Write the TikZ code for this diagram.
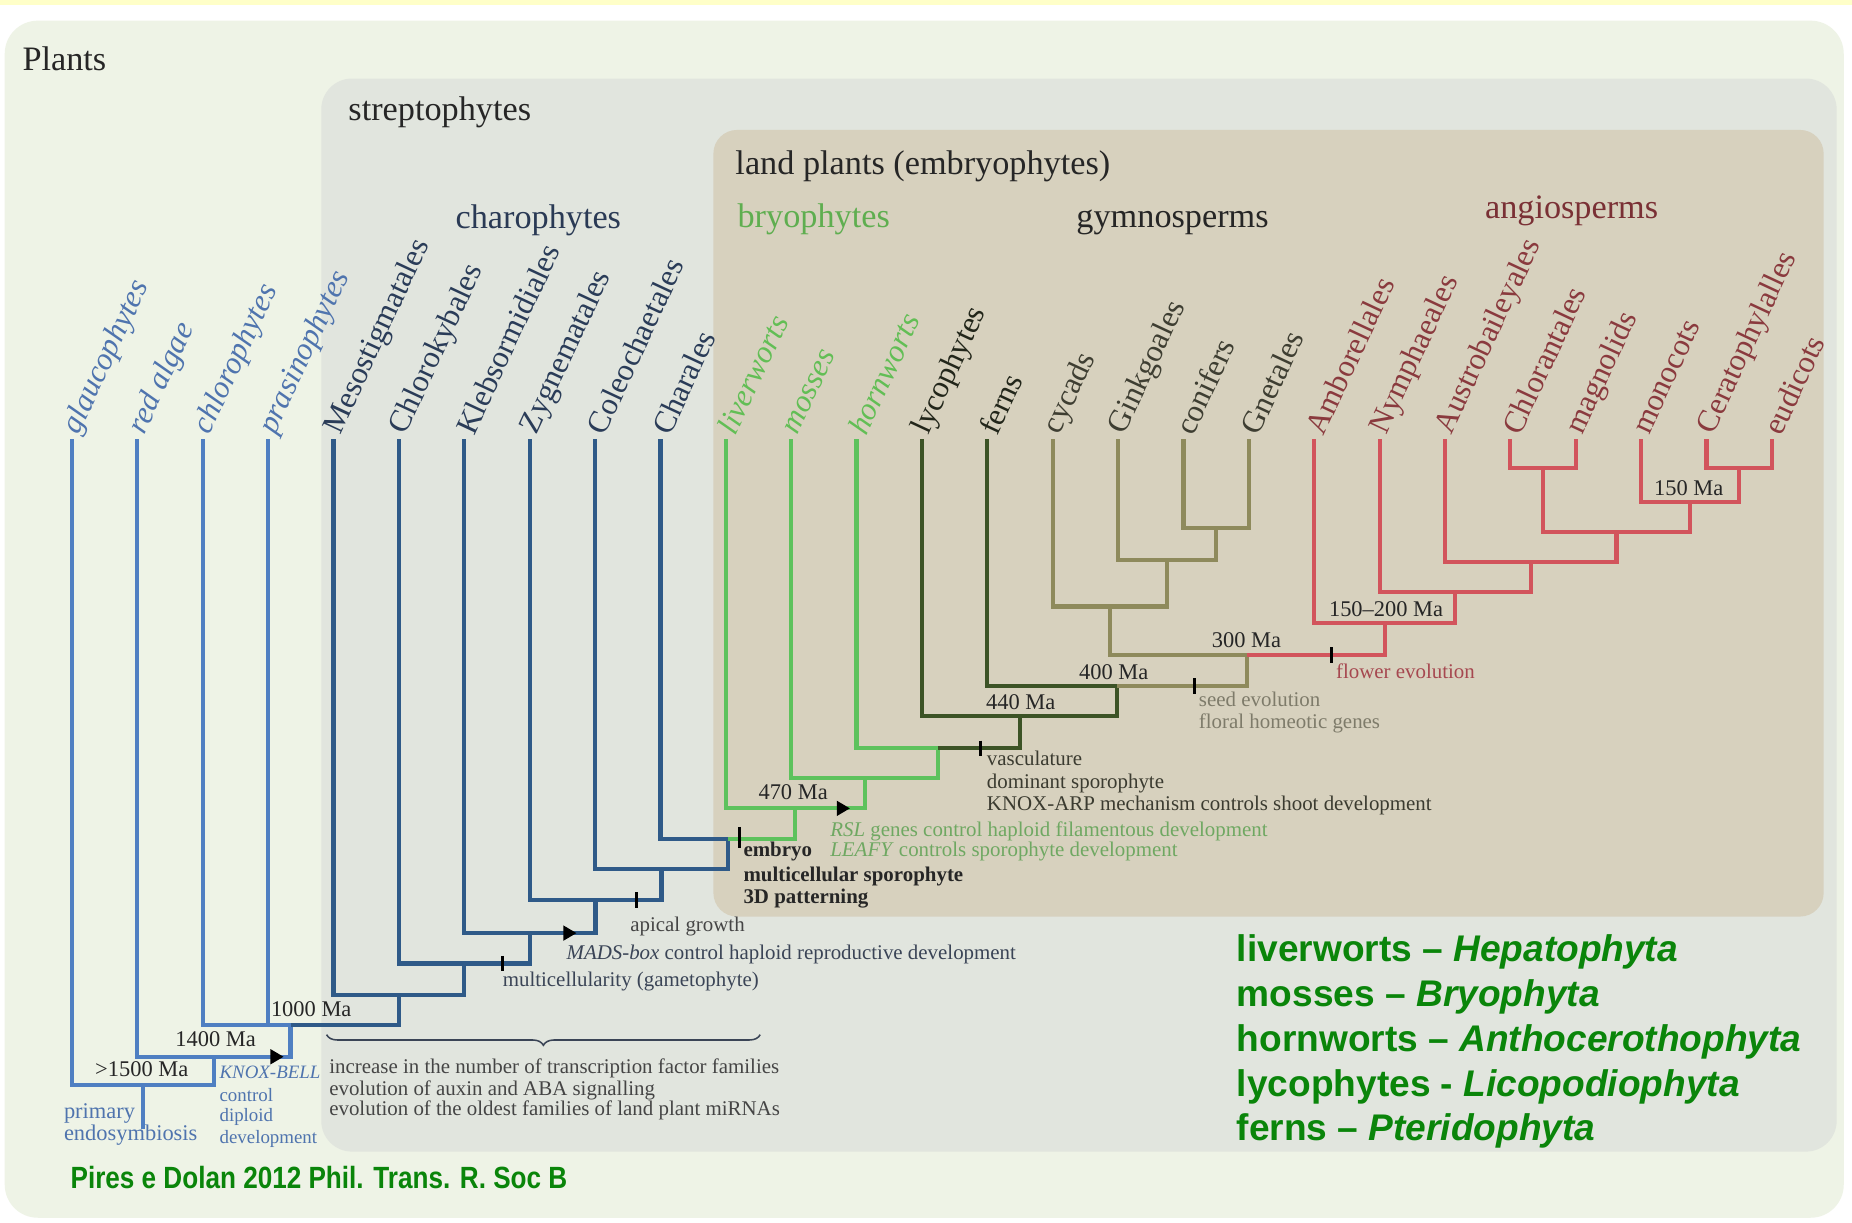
\documentclass[tikz,border=0pt]{standalone}
\usepackage{fontspec}
\setmainfont{Liberation Serif}
\newfontfamily\sansfont{Liberation Sans}
\usetikzlibrary{decorations.pathreplacing,calc}
\definecolor{ybg}{HTML}{FFFFC8}
\definecolor{plantsbg}{HTML}{EEF3E6}
\definecolor{streptobg}{HTML}{E1E5DE}
\definecolor{landbg}{HTML}{D7D1BE}
\definecolor{cAlg}{HTML}{4F7FC2}
\definecolor{cCha}{HTML}{2F5A88}
\definecolor{cBry}{HTML}{5DC25D}
\definecolor{cVas}{HTML}{3C5326}
\definecolor{cGym}{HTML}{8E8A5C}
\definecolor{cAng}{HTML}{D2545C}
\definecolor{tAlg}{HTML}{4F74AE}
\definecolor{tCha}{HTML}{2A3C58}
\definecolor{tBry}{HTML}{62BE55}
\definecolor{tVas}{HTML}{22261A}
\definecolor{tGym}{HTML}{3E3E32}
\definecolor{tAng}{HTML}{8A3A3E}
\definecolor{tGrey}{HTML}{454545}
\definecolor{tSlate}{HTML}{3A4456}
\definecolor{tSeed}{HTML}{7E7B6A}
\definecolor{tFlow}{HTML}{A64850}
\definecolor{tLand}{HTML}{6FA862}
\definecolor{tOlive}{HTML}{3B3B30}
\definecolor{legendc}{HTML}{0A850A}
\definecolor{tBryG}{HTML}{5FAE50}
\definecolor{tAngG}{HTML}{7A3035}
\definecolor{tChaG}{HTML}{2A3A55}
\begin{document}
\begin{tikzpicture}[x=1pt,y=-1pt,
  leaflab/.style={anchor=west,rotate=65,inner sep=0pt,font=\fontsize{26.5}{26.5}\selectfont},
  algT/.style={leaflab,text=tAlg,font=\fontsize{26.5}{26.5}\selectfont\itshape},
  chaT/.style={leaflab,text=tCha},
  bryT/.style={leaflab,text=tBry,font=\fontsize{26.5}{26.5}\selectfont\itshape},
  vasT/.style={leaflab,text=tVas},
  gymT/.style={leaflab,text=tGym},
  angT/.style={leaflab,text=tAng},
  grp/.style={anchor=base west,inner sep=0pt,font=\fontsize{29}{29}\selectfont,text=black!85},
  ev/.style={anchor=base west,inner sep=0pt,font=\fontsize{17.7}{17.7}\selectfont},
  ma/.style={anchor=base,inner sep=0pt,font=\fontsize{19}{19}\selectfont,text=black!85},
  br/.style={line width=3.5pt},
  alg/.style={br,draw=cAlg},
  cha/.style={br,draw=cCha},
  bry/.style={br,draw=cBry},
  vas/.style={br,draw=cVas},
  gym/.style={br,draw=cGym},
  ang/.style={br,draw=cAng},
  tickmark/.style={line width=2.6pt,draw=black},
  leg/.style={anchor=base west,inner sep=0pt,text=legendc,font=\sansfont\bfseries\fontsize{31.4}{31.4}\selectfont}]
\useasboundingbox (0,0) rectangle (1568,1035);
% backgrounds
\fill[white] (0,0) rectangle (1568,1035);
\fill[ybg] (0,0) rectangle (1568,4.5);
\fill[plantsbg,rounded corners=28pt] (4,17.5) rectangle (1561,1031);
\fill[streptobg,rounded corners=26pt] (272,66.5) rectangle (1555,975);
\fill[landbg,rounded corners=20pt] (604,110) rectangle (1544,776);

% group labels
\node[grp] (g-plants) at (18.9,59.9) {Plants};
\node[grp] (g-strep) at (294.8,101.6) {streptophytes};
\node[grp] (g-land) at (622.5,148) {land plants (embryophytes)};
\node[grp,text=tChaG] (g-chara) at (385.5,193.3) {charophytes};
\node[grp,text=tBryG] (g-bryo) at (624.3,192.6) {bryophytes};
\node[grp] (g-gymno) at (911.2,192.6) {gymnosperms};
\node[grp,text=tAngG] (g-angio) at (1257.1,185) {angiosperms};

% leaves
\foreach \x/\n/\t in {61/glau/glaucophytes,116.35/red/red algae,171.7/chlo/chlorophytes,227.05/pras/prasinophytes}
  {\coordinate (\n) at (\x,372); \node[algT] (lab-\n) at (\x,366) {\t};}
\foreach \x/\n/\t in {282.4/meso/Mesostigmatales,337.75/chlk/Chlorokybales,393.1/kleb/Klebsormidiales,448.45/zyg/Zygnematales,503.8/cole/Coleochaetales,559.15/char/Charales}
  {\coordinate (\n) at (\x,372); \node[chaT] (lab-\n) at (\x,366) {\t};}
\foreach \x/\n/\t in {614.5/liv/liverworts,669.85/mos/mosses,725.2/horn/hornworts}
  {\coordinate (\n) at (\x,372); \node[bryT] (lab-\n) at (\x,366) {\t};}
\foreach \x/\n/\t in {780.55/lyc/lycophytes,835.9/fern/ferns}
  {\coordinate (\n) at (\x,372); \node[vasT] (lab-\n) at (\x,366) {\t};}
\foreach \x/\n/\t in {891.25/cyc/cycads,946.6/gink/Ginkgoales,1001.95/conif/conifers,1057.3/gnet/Gnetales}
  {\coordinate (\n) at (\x,372); \node[gymT] (lab-\n) at (\x,366) {\t};}
\foreach \x/\n/\t in {1112.65/amb/Amborellales,1168/nym/Nymphaeales,1223.35/aus/Austrobaileyales,1278.7/chlt/Chlorantales,1334.05/mag/magnolids,1389.4/mon/monocots,1444.75/cer/Ceratophylalles,1500.1/eud/eudicots}
  {\coordinate (\n) at (\x,372); \node[angT] (lab-\n) at (\x,366) {\t};}

% internal nodes
\coordinate (nCE) at (1472.4,396.5);
\coordinate (nChM) at (1306.4,396.5);
\coordinate (nMo) at (1430.9,424.7);
\coordinate (nMagMo) at (1368.6,450.1);
\coordinate (nAus) at (1296.0,475.6);
\coordinate (nNym) at (1232.0,501);
\coordinate (nAmb) at (1172.3,527.8);
\coordinate (nCG) at (1029.6,447.3);
\coordinate (nGk) at (988.1,474);
\coordinate (nCy) at (939.7,513.5);
\coordinate (nSeed) at (1056.0,554.6);
\coordinate (nFern) at (946.0,580.8);
\coordinate (nLyc) at (863.3,606.3);
\coordinate (nHorn) at (794.2,633.6);
\coordinate (nMos) at (732.0,658.4);
\coordinate (nLiv) at (673.3,684.4);
\coordinate (nChar) at (616.2,710);
\coordinate (nCole) at (560.0,736);
\coordinate (nZyg) at (504.2,762);
\coordinate (nKleb) at (448.7,790);
\coordinate (nChlk) at (393.2,815.7);
\coordinate (nMeso) at (337.8,842.5);
\coordinate (n1000) at (246,868);
\coordinate (n1400) at (181.2,894.7);
\coordinate (nRoot) at (121.1,918.7);
\coordinate (rootend) at (121.1,956);

% tree: algae
\draw[alg] (glau) |- (nRoot) -| (n1400);
\draw[alg] (nRoot) -- (rootend);
\draw[alg] (red) |- (n1400) -| (n1000);
\draw[alg] (chlo) |- (n1000);
\draw[alg] (pras) -- (pras |- n1000);
% charophytes
\draw[cha] (n1000) -| (nMeso);
\draw[cha] (meso) |- (nMeso) -| (nChlk);
\draw[cha] (chlk) |- (nChlk) -| (nKleb);
\draw[cha] (kleb) |- (nKleb) -| (nZyg);
\draw[cha] (zyg) |- (nZyg) -| (nCole);
\draw[cha] (cole) |- (nCole) -| (nChar);
\draw[cha] (char) |- (nChar);
% bryophytes
\draw[bry] (nChar) -| (nLiv);
\draw[bry] (liv) |- (nLiv) -| (nMos);
\draw[bry] (mos) |- (nMos) -| (nHorn);
\draw[bry] (horn) |- (nHorn);
% vascular
\draw[vas] (nHorn) -| (nLyc);
\draw[vas] (lyc) |- (nLyc) -| (nFern);
\draw[vas] (fern) |- (nFern);
% gymnosperms
\draw[gym] (nFern) -| (nSeed);
\draw[gym] (nCy) |- (nSeed);
\draw[gym] (cyc) |- (nCy) -| (nGk);
\draw[gym] (gink) |- (nGk) -| (nCG);
\draw[gym] (conif) |- (nCG) -| (gnet);
% angiosperms
\draw[ang] (nSeed) -| (nAmb);
\draw[ang] (amb) |- (nAmb) -| (nNym);
\draw[ang] (nym) |- (nNym) -| (nAus);
\draw[ang] (aus) |- (nAus) -| (nMagMo);
\draw[ang] (nChM) |- (nMagMo) -| (nMo);
\draw[ang] (chlt) |- (nChM) -| (mag);
\draw[ang] (mon) |- (nMo) -| (nCE);
\draw[ang] (cer) |- (nCE) -| (eud);

% ticks
\coordinate (tk1) at (425.5,815.7);
\coordinate (tk2) at (539,762);
\coordinate (tk3) at (626,709);
\coordinate (tk4) at (829.8,633.6);
\coordinate (tk5) at (1011,580.8);
\coordinate (tk6) at (1127.5,554.6);
\foreach \t in {tk1,tk2,tk4,tk5,tk6}
  \draw[tickmark] ($(\t)+(0,-6.5)$) -- ($(\t)+(0,6.5)$);
\draw[tickmark] ($(tk3)+(0,-9)$) -- ($(tk3)+(0,9)$);
% arrowheads
\coordinate (ar1) at (240,894.7);
\coordinate (ar2) at (488,790);
\coordinate (ar3) at (719.5,684.4);
\foreach \a in {ar1,ar2,ar3}
  \fill[black] (\a) -- ++(-11,-6.5) -- ++(0,13) -- cycle;

% age labels
\node[ma] (m1500) at (120,911) {>1500 Ma};
\node[ma] (m1400) at (182.5,885.6) {1400 Ma};
\node[ma] (m1000) at (263.5,860.2) {1000 Ma};
\node[ma] (m470) at (671.5,677.3) {470 Ma};
\node[ma] (m440) at (864.2,601) {440 Ma};
\node[ma] (m400) at (943,575.2) {400 Ma};
\node[ma] (m300) at (1055.3,548.4) {300 Ma};
\node[ma] (m150200) at (1173.5,522.1) {150–200 Ma};
\node[ma] (m150) at (1429.7,419.1) {150 Ma};

% event labels
\node[ev,text=tAlg,font=\fontsize{19}{19}\selectfont] (e-prim) at (54,946.9) {primary};
\node[ev,text=tAlg,font=\fontsize{19}{19}\selectfont] (e-endo) at (54,965.2) {endosymbiosis};
\node[ev,text=tAlg,font=\fontsize{16}{16}\selectfont] (e-knox) at (185.7,913) {\textit{KNOX-BELL}};
\node[ev,text=tAlg,font=\fontsize{16}{16}\selectfont] (e-ctrl) at (185.7,932.2) {control};
\node[ev,text=tAlg,font=\fontsize{16}{16}\selectfont] (e-dipl) at (185.7,949.7) {diploid};
\node[ev,text=tAlg,font=\fontsize{16}{16}\selectfont] (e-devl) at (185.7,968) {development};
\node[ev,text=tGrey] (e-tf) at (278.6,908.8) {increase in the number of transcription factor families};
\node[ev,text=tGrey] (e-aux) at (278.6,927.1) {evolution of auxin and ABA signalling};
\node[ev,text=tGrey] (e-mir) at (278.6,944.1) {evolution of the oldest families of land plant miRNAs};
\draw[decorate,decoration={brace,amplitude=9pt},line width=1.3pt,draw=tSlate] (643.6,876) -- (276.5,876);
\node[ev,text=tGrey] (e-apic) at (533.5,789) {apical growth};
\node[ev,text=tSlate] (e-mads) at (479.5,812) {\textit{MADS-box} control haploid reproductive development};
\node[ev,text=tSlate] (e-mult) at (425.5,835) {multicellularity (gametophyte)};
\node[ev,text=black!85,font=\fontsize{17.7}{17.7}\selectfont\bfseries] (e-emb) at (629.3,725.3) {embryo};
\node[ev,text=black!85,font=\fontsize{17.7}{17.7}\selectfont\bfseries] (e-msp) at (629.3,746.5) {multicellular sporophyte};
\node[ev,text=black!85,font=\fontsize{17.7}{17.7}\selectfont\bfseries] (e-3d) at (629.3,764.8) {3D patterning};
\node[ev,text=tLand] (e-rsl) at (702.8,708.4) {\textit{RSL} genes control haploid filamentous development};
\node[ev,text=tLand] (e-leafy) at (702.8,725.3) {\textit{LEAFY} controls sporophyte development};
\node[ev,text=tOlive] (e-vasc) at (835.4,647.7) {vasculature};
\node[ev,text=tOlive] (e-dom) at (835.4,667.5) {dominant sporophyte};
\node[ev,text=tOlive] (e-karp) at (835.4,685.8) {KNOX-ARP mechanism controls shoot development};
\node[ev,text=tSeed] (e-seed) at (1014.9,597.8) {seed evolution};
\node[ev,text=tSeed] (e-floral) at (1014.9,616.7) {floral homeotic genes};
\node[ev,text=tFlow] (e-flow) at (1131,574.3) {flower evolution};

% legend
\node[leg] (lg1) at (1047,814) {liverworts – \textit{Hepatophyta}};
\node[leg] (lg2) at (1047,852.3) {mosses – \textit{Bryophyta}};
\node[leg] (lg3) at (1047,890.4) {hornworts – \textit{Anthocerothophyta}};
\node[leg] (lg4) at (1047,928.5) {lycophytes - \textit{Licopodiophyta}};
\node[leg] (lg5) at (1047,965.8) {ferns – \textit{Pteridophyta}};
\node[anchor=base west,inner sep=0pt,text=legendc] (cite) at (59.6,1006)
  {\scalebox{0.85}[1]{\sansfont\bfseries\fontsize{26}{26}\selectfont Pires e Dolan 2012 Phil. Trans. R. Soc B}};
\end{tikzpicture}
\end{document}
